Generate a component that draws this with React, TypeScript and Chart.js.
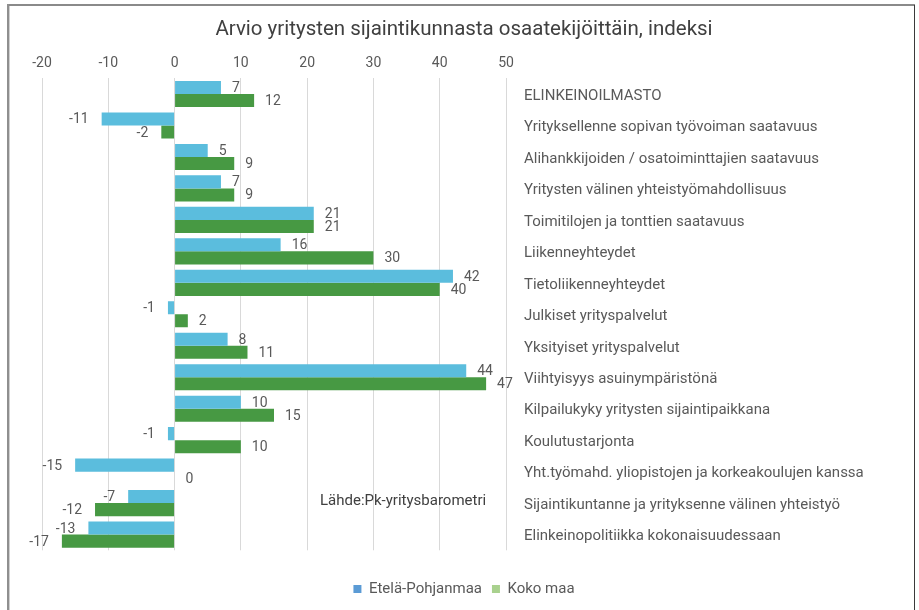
import React, { useEffect, useRef } from 'react';
import { Chart, registerables } from 'chart.js';

Chart.register(...registerables);

// ---------- data ----------
const categories = [
  'ELINKEINOILMASTO',
  'Yrityksellenne sopivan työvoiman saatavuus',
  'Alihankkijoiden / osatoiminttajien saatavuus',
  'Yritysten välinen yhteistyömahdollisuus',
  'Toimitilojen ja tonttien saatavuus',
  'Liikenneyhteydet',
  'Tietoliikenneyhteydet',
  'Julkiset yrityspalvelut',
  'Yksityiset yrityspalvelut',
  'Viihtyisyys asuinympäristönä',
  'Kilpailukyky yritysten sijaintipaikkana',
  'Koulutustarjonta',
  'Yht.työmahd. yliopistojen ja korkeakoulujen kanssa',
  'Sijaintikuntanne ja yrityksenne välinen yhteistyö',
  'Elinkeinopolitiikka kokonaisuudessaan',
];
const etelaPohjanmaa = [7, -11, 5, 7, 21, 16, 42, -1, 8, 44, 10, -1, -15, -7, -13];
const kokoMaa = [12, -2, 9, 9, 21, 30, 40, 2, 11, 47, 15, 10, 0, -12, -17];
const seriesNames = ['Etelä-Pohjanmaa', 'Koko maa'];
const xMin = -20;
const xMax = 50;
const xStep = 10;
const titleText = 'Arvio yritysten sijaintikunnasta osaatekijöittäin, indeksi';
const sourceText = 'Lähde:Pk-yritysbarometri';

// ---------- style ----------
const FONT = 'Roboto, "Noto Sans", sans-serif';
const barColors = ['#5BBDDD', '#479943'];
const legendColors = ['#5B9BD5', '#A9D18E'];
const textColor = '#595959';

const dataLabelPlugin = {
  id: 'dataLabels',
  afterDatasetsDraw(chart: any) {
    const ctx = chart.ctx;
    ctx.save();
    ctx.font = `14px ${FONT}`;
    ctx.fillStyle = textColor;
    ctx.textBaseline = 'middle';
    chart.data.datasets.forEach((ds: any, di: number) => {
      const meta = chart.getDatasetMeta(di);
      meta.data.forEach((el: any, i: number) => {
        const v = ds.data[i];
        if (v >= 0) {
          ctx.textAlign = 'left';
          ctx.fillText(String(v), el.x + 11, el.y + 1);
        } else {
          ctx.textAlign = 'right';
          ctx.fillText(String(v), el.x - 13, el.y + 1);
        }
      });
    });
    ctx.restore();
  },
};

const framePlugin = {
  id: 'frameAndSource',
  afterDraw(chart: any) {
    const ctx = chart.ctx;
    ctx.save();
    // frame
    ctx.fillStyle = '#8a8a8a';
    ctx.fillRect(7, 4, 908, 2);
    ctx.fillStyle = '#8f8f8f';
    ctx.fillRect(7, 4, 2, 610);
    ctx.fillStyle = '#d0d0d0';
    ctx.fillRect(9, 6, 1, 610);
    ctx.fillStyle = '#3a3a3a';
    ctx.fillRect(914, 5, 1, 610);
    // source note
    ctx.font = `15px ${FONT}`;
    ctx.fillStyle = '#404040';
    ctx.textAlign = 'left';
    ctx.textBaseline = 'middle';
    ctx.fillText(sourceText, 320, 501);
    ctx.restore();
  },
};

export default function App() {
  const ref = useRef<HTMLCanvasElement>(null);

  useEffect(() => {
    if (!ref.current) return;
    const chart = new Chart(ref.current, {
      type: 'bar',
      data: {
        labels: categories,
        datasets: [
          { label: seriesNames[0], data: etelaPohjanmaa, backgroundColor: barColors[0] },
          { label: seriesNames[1], data: kokoMaa, backgroundColor: barColors[1] },
        ],
      },
      options: {
        indexAxis: 'y',
        animation: false,
        responsive: false,
        maintainAspectRatio: false,
        events: [],
        layout: { padding: { left: 42, right: 33, top: 0, bottom: 3.5 } },
        datasets: { bar: { categoryPercentage: 0.83, barPercentage: 1 } } as any,
        scales: {
          x: {
            position: 'top',
            min: xMin,
            max: xMax,
            ticks: { stepSize: xStep, padding: 6, color: textColor, font: { family: FONT, size: 14 } },
            grid: { color: '#d9d9d9', drawTicks: false, lineWidth: 1 },
            border: { display: false },
            afterFit: (s: any) => {
              s.height = 31.7;
            },
          },
          y: {
            position: 'right',
            grid: { display: false, drawTicks: false },
            border: { display: false },
            ticks: { crossAlign: 'near', padding: 18, labelOffset: 2, color: textColor, font: { family: FONT, size: 15 } },
            afterFit: (s: any) => {
              s.width = 380;
            },
          },
        } as any,
        plugins: {
          title: {
            display: true,
            text: titleText,
            color: '#404040',
            font: { family: FONT, size: 20.5, weight: 'normal' },
            padding: { top: 17.7, bottom: 4.3 },
          },
          subtitle: {
            display: true,
            text: '',
            position: 'bottom',
            weight: 500,
            font: { size: 1 },
            padding: { top: 20, bottom: 0 },
          } as any,
          legend: {
            position: 'bottom',
            labels: {
              boxWidth: 8,
              boxHeight: 8,
              padding: 10,
              color: textColor,
              font: { family: FONT, size: 15 },
              generateLabels: (c: any) =>
                c.data.datasets.map((ds: any, i: number) => ({
                  text: ds.label,
                  fillStyle: legendColors[i],
                  strokeStyle: legendColors[i],
                  lineWidth: 0,
                  hidden: false,
                  datasetIndex: i,
                  fontColor: textColor,
                })),
            },
          },
          tooltip: { enabled: false },
        },
      },
      plugins: [dataLabelPlugin, framePlugin],
    });
    return () => chart.destroy();
  }, []);

  return (
    <div style={{ position: 'absolute', left: 0, top: 0, width: 919, height: 610, background: '#fff' }}>
      <canvas ref={ref} width={919} height={610} style={{ display: 'block' }} />
    </div>
  );
}
